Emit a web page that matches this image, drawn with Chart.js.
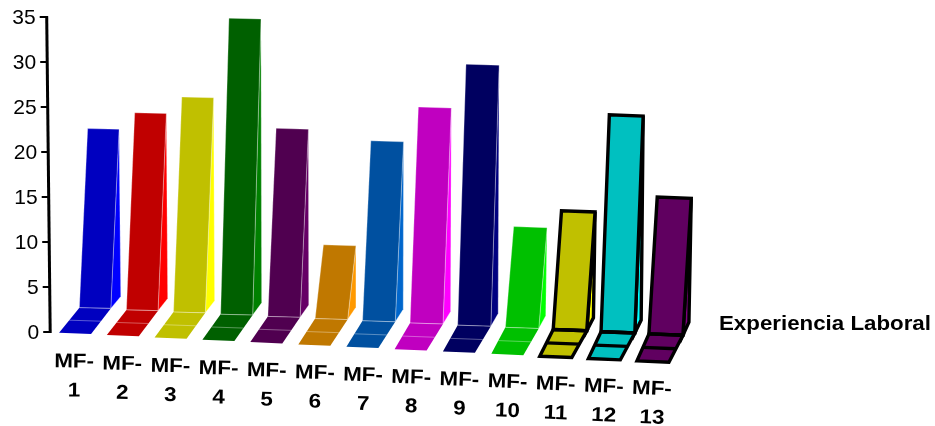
<!DOCTYPE html>
<html>
<head>
<meta charset="utf-8">
<title>Experiencia Laboral</title>
<script src="https://cdn.jsdelivr.net/npm/chart.js@4"></script>
<style>
  html, body { margin: 0; padding: 0; background: #fff; }
  canvas { display: block; }
</style>
</head>
<body>
<canvas id="expChart" width="935" height="426"></canvas>
<script>
const xLabels = [["MF-","1"],["MF-","2"],["MF-","3"],["MF-","4"],["MF-","5"],["MF-","6"],["MF-","7"],["MF-","8"],["MF-","9"],["MF-","10"],["MF-","11"],["MF-","12"],["MF-","13"]];
const yTicks = [0, 5, 10, 15, 20, 25, 30, 35];
const experiencia = [19.9, 21.9, 23.9, 32.9, 20.9, 8.2, 20, 24, 29, 11.2, 13.2, 24.1, 15.2];
const axisTitle = "Experiencia Laboral";

const faceColors = ["#0000c0","#c00000","#c0c000","#006000","#500050","#c07800","#0050a0","#c000c0","#000060","#00c000","#c0c000","#00c0c0","#600060"];
const sideColors = ["#0000ff","#ff0000","#ffff00","#008000","#660066","#ff9900","#0066cc","#ff00ff","#000080","#00ff00","#ffff00","#00ffff","#800080"];
const outlineWidths = [0,0,0,0,0,0,0,0,0,0,3.4,3.4,3.4];

const lerp = (a, b, t) => a + (b - a) * t;

function poly(ctx, pts, fill, lw, halo) {
  ctx.beginPath();
  pts.forEach((p, i) => i ? ctx.lineTo(p[0], p[1]) : ctx.moveTo(p[0], p[1]));
  ctx.closePath();
  ctx.fillStyle = fill;
  ctx.fill();
  if (lw) {
    ctx.lineWidth = lw;
    ctx.strokeStyle = "#000";
    ctx.stroke();
  } else if (halo) {
    ctx.lineWidth = 1;
    ctx.strokeStyle = "rgba(255,255,255,0.3)";
    ctx.stroke();
  }
}

// the old 3D look: floor tile in front, tall face leaning back, thin side wedge
function drawBar3d(ctx, el, i, n, dataset) {
  const t = i / (n - 1);
  const lw = dataset.outlineWidths[i];
  const frontY = el.base + 0.7 + 2.35 * i;
  // perspective pulls the middle bars slightly left of even spacing
  const cx = el.x - 1.6 * Math.sin(Math.PI * t);
  const fl = [cx - 16, frontY];
  const fr = [cx + 16, frontY + 1.3];
  const bl = [fl[0] + lerp(20.3, 12, t), frontY - lerp(25, 27, t)];
  const br = [fr[0] + lerp(19.7, 14, t), fr[1] - lerp(25.6, 27, t)];
  const h = el.y - el.base;
  const tl = [bl[0] + 8.3, bl[1] + h];
  const tr = [br[0] + 8.3, br[1] + h];
  const sb = [br[0] + lerp(10, 6, t), br[1] + lerp(-12, -13, t)];

  poly(ctx, [br, sb, tr], dataset.sideColors[i], lw, true);
  poly(ctx, [bl, br, tr, tl], dataset.faceColors[i], lw, true);
  poly(ctx, [fl, fr, br, bl], dataset.faceColors[i], lw, false);

  // line across the floor tile
  ctx.beginPath();
  ctx.moveTo((fl[0] + bl[0]) / 2, (fl[1] + bl[1]) / 2);
  ctx.lineTo((fr[0] + br[0]) / 2, (fr[1] + br[1]) / 2);
  ctx.lineWidth = lw || 1;
  ctx.strokeStyle = lw ? "#000" : "rgba(255,255,255,0.35)";
  ctx.stroke();
  // line where the face meets the floor
  ctx.beginPath();
  ctx.moveTo(bl[0], bl[1]);
  ctx.lineTo(br[0], br[1]);
  ctx.stroke();
}

function stretchedText(ctx, text, x, y, sx, angle) {
  ctx.save();
  ctx.translate(x, y);
  ctx.rotate(angle);
  ctx.scale(sx, 1);
  ctx.fillText(text, 0, 0);
  ctx.restore();
}

const bars3d = {
  id: "bars3d",
  beforeDatasetDraw(chart, args) {
    const ctx = chart.ctx;
    const els = args.meta.data;
    ctx.save();
    ctx.lineJoin = "miter";
    els.forEach((el, i) => drawBar3d(ctx, el, i, els.length, chart.data.datasets[args.index]));
    ctx.restore();
    return false;
  },
  afterDraw(chart) {
    const ctx = chart.ctx;
    const x = chart.scales.x;
    const y = chart.scales.y;
    const left = chart.chartArea.left;
    const slant = v => left - 0.8 - 3.5 * (y.getPixelForValue(0) - y.getPixelForValue(v)) / (y.getPixelForValue(0) - y.getPixelForValue(35));

    ctx.save();
    ctx.strokeStyle = "#000";
    ctx.fillStyle = "#000";

    // value axis, leans a little like the bars
    ctx.lineWidth = 3;
    ctx.beginPath();
    ctx.moveTo(slant(35), y.getPixelForValue(35) - 1);
    ctx.lineTo(slant(0), y.getPixelForValue(0) + 1);
    ctx.stroke();

    ctx.font = "21px 'Liberation Sans'";
    ctx.textAlign = "right";
    ctx.textBaseline = "middle";
    ctx.lineWidth = 2;
    yTicks.forEach(v => {
      const py = y.getPixelForValue(v);
      ctx.beginPath();
      ctx.moveTo(slant(v), py);
      ctx.lineTo(slant(v) - 7, py);
      ctx.stroke();
      ctx.fillText(String(v), slant(v) - 11, py + 1);
    });

    // category labels step down with the floor
    ctx.font = "bold 20px 'Liberation Sans'";
    ctx.textAlign = "center";
    x.getLabels().forEach((lab, i) => {
      const cx = x.getPixelForValue(i) - 1;
      const angle = lerp(0.5, 2.5, i / 12) * Math.PI / 180;
      stretchedText(ctx, lab[0], cx, 362 + 2.25 * i, 1.12, angle);
      stretchedText(ctx, lab[1], cx, 391 + 2.25 * i, 1.12, angle);
    });

    ctx.textAlign = "left";
    stretchedText(ctx, axisTitle, 719, 324, 1.115, 0);
    ctx.restore();
  }
};

new Chart(document.getElementById("expChart"), {
  type: "bar",
  data: {
    labels: xLabels,
    datasets: [{
      label: axisTitle,
      data: experiencia,
      backgroundColor: faceColors,
      faceColors: faceColors,
      sideColors: sideColors,
      outlineWidths: outlineWidths,
      barPercentage: 0.664,
      categoryPercentage: 1
    }]
  },
  options: {
    responsive: false,
    animation: false,
    layout: { padding: { left: 51, right: 258, top: 17, bottom: 94 } },
    plugins: { legend: { display: false }, tooltip: { enabled: false } },
    scales: {
      x: { display: false },
      y: { display: false, min: 0, max: 35, ticks: { stepSize: 5 } }
    }
  },
  plugins: [bars3d]
});
</script>
</body>
</html>
